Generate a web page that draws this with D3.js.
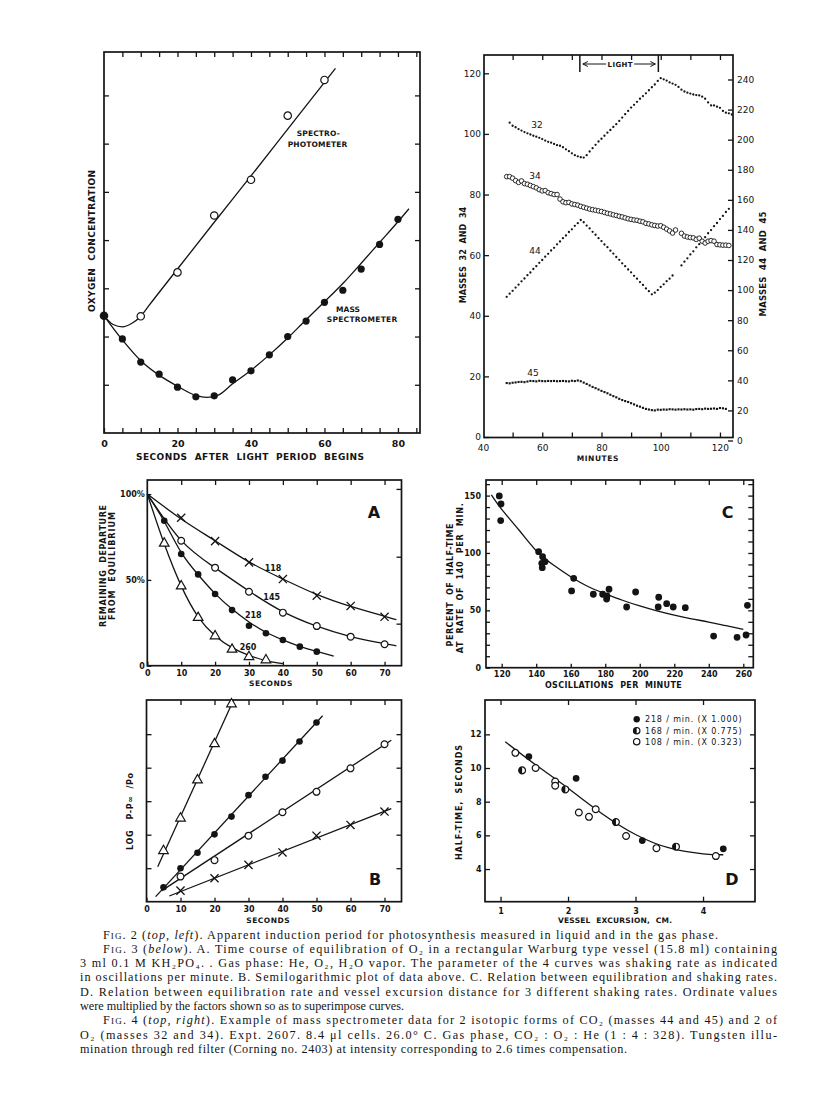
<!DOCTYPE html>
<html><head><meta charset="utf-8">
<script src="https://cdn.jsdelivr.net/npm/d3@7"></script>
<style>
body{margin:0;background:#fff;}
svg{display:block;background:#fff;}
</style></head><body>
<svg id="c" width="816" height="1116"></svg>
<script>
// ---------------- FIG. 2 data ----------------
const fig2Seconds = [0,5,10,15,20,25,30,35,40,45,50,55,60,65,70,75,80];
const fig2MassSpec = [2.43,1.95,1.47,1.22,0.95,0.75,0.77,1.10,1.29,1.62,2.00,2.32,2.71,2.96,3.40,3.91,4.43];
const fig2SpectroSeconds = [10,20,30,40,50,60];
const fig2Spectro = [2.42,3.33,4.51,5.25,6.58,7.32];
const fig2SpectroFitX = [0,2.5,5,7.5,10,12,20,30,40,50,60,63];
const fig2SpectroFitY = [2.43,2.25,2.2,2.27,2.42,2.62,3.4,4.37,5.33,6.3,7.27,7.56];
const fig2MassFitX = [0,5,10,15,20,25,28,31,35,40,45,50,55,60,65,70,75,80,83];
const fig2MassFitY = [2.43,1.93,1.5,1.2,0.97,0.78,0.74,0.78,1.02,1.3,1.62,1.97,2.35,2.72,3.1,3.52,3.95,4.38,4.65];
const fig2XLabels = [0,20,40,60,80];

// ---------------- FIG. 4 data (one reading per minute, 48..124) ----------------
const fig4Minutes = d3.range(48, 125);
const mass32 = [null,103.7,102.7,102.2,101.6,101.1,100.6,100.2,99.8,99.4,99.1,
  98.7,98.3,97.8,97.4,97.1,96.7,96.3,96.1,95.6,94.9,
  94.3,93.6,93.0,92.6,92.3,92.2,93.0,94.2,95.3,96.4,
  97.5,98.4,99.4,100.4,101.3,102.3,103.2,104.3,105.4,106.5,
  107.6,108.7,109.6,110.6,111.6,112.5,113.4,114.4,115.4,116.3,
  117.5,118.4,118.0,117.6,117.0,116.6,116.2,115.5,114.6,114.0,
  113.6,113.3,113.0,112.8,112.7,112.3,111.6,110.4,109.4,109.4,
  109.0,108.6,107.6,107.0,106.8,106.4];
const mass34 = [85.9,85.9,85.4,84.6,84.0,84.5,83.6,83.4,83.0,82.6,
  82.2,81.6,81.2,81.3,80.6,80.3,80.0,80.0,78.5,77.6,
  77.3,77.4,76.9,76.7,76.5,76.1,75.8,75.5,75.2,75.0,
  74.8,74.6,74.4,74.1,73.8,73.6,73.3,73.1,72.8,72.6,
  72.3,72.0,71.8,71.6,71.5,71.2,71.0,70.5,70.3,70.0,
  69.8,69.6,69.7,69.2,68.6,68.0,67.3,68.3,null,67.2,
  66.3,66.0,65.8,65.7,65.2,65.6,64.6,64.0,64.6,64.8,
  64.6,63.5,63.4,63.3,63.3,63.2,null];
const mass44 = [95.5,97.6,99.5,101.7,103.6,105.8,107.7,109.9,111.7,114.0,
  115.9,118.1,120.0,122.2,124.1,126.3,128.1,130.4,132.3,134.5,
  136.3,138.6,140.4,142.7,144.5,146.6,145.1,142.9,141.0,138.7,
  136.8,134.5,132.6,130.3,128.5,126.2,124.3,122.0,120.1,117.8,
  115.9,113.7,111.8,109.5,107.6,105.3,103.4,101.1,99.3,97.2,
  98.3,100.0,102.1,103.8,105.9,107.6,109.7,null,null,116.4,
  118.9,121.1,123.7,125.8,128.4,130.5,133.1,135.2,137.8,139.9,
  142.5,144.6,147.2,149.3,151.9,154.0,null];
const mass45 = [38.2,38.0,38.4,38.6,38.9,39.0,38.8,39.2,39.6,39.5,
  39.3,39.7,39.5,39.4,39.6,39.5,39.6,39.4,39.5,39.6,
  39.4,39.3,39.7,39.5,39.9,39.4,38.5,37.6,36.6,35.6,
  34.8,33.9,33.0,32.2,31.4,30.4,29.5,28.7,27.7,26.9,
  26.2,25.6,24.8,24.0,23.1,22.5,21.7,21.0,20.6,20.2,
  20.0,20.5,20.4,20.6,20.5,20.8,20.7,20.5,20.7,20.6,
  20.8,20.6,20.7,20.5,20.9,21.0,20.8,21.2,21.0,21.1,
  21.3,21.0,21.6,21.4,21.0,null,null];
const lightPeriod = [72.7, 99.2];
const fig4XLabels = [40,60,80,100,120];
const fig4LeftLabels = [0,20,40,60,80,100,120];
const fig4RightLabels = [0,20,40,60,80,100,120,140,160,180,200,220,240];

// ---------------- FIG. 3A data ----------------
const aSec = [10,20,30,40,50,60,70];
const a118 = [86.2,72.6,60.2,50.5,40.8,34.8,28.5];
const a145 = [72.8,57.1,43.1,30.9,23.1,16.9,12.5];
const aSec218 = [5,10,15,20,25,30,35,40,45,50];
const a218 = [84.5,65.1,53.2,41.8,32.4,23.3,18.9,15.0,11.1,8.2];
const aSec260 = [5,10,15,20,25,30,35];
const a260 = [71.3,46.4,28.0,17.3,9.5,5.2,3.3];
const aFit118X = [0,10,20,30,40,50,60,70,73.5];
const aFit118Y = [100,85.5,72.8,60.5,50.5,41.5,34.5,28.8,26.8];
const aFit145X = [0,10,20,30,40,50,60,70,73.5];
const aFit145Y = [100,73,57,43.5,31.5,23,17,12.8,11.6];
const aFit218X = [0,5,10,15,20,25,30,35,40,45,50,55];
const aFit218Y = [100,84,66,53,42,33,25.5,19.5,15,11.2,8.3,5.6];
const aFit260X = [0,5,10,15,20,25,30,35,40];
const aFit260Y = [100,71,46.5,28.5,17.5,10.5,6,3,1.2];
const aXLabels = [0,10,20,30,40,50,60,70];

// ---------------- FIG. 3B data ----------------
const bSecTri = [5,10,15,20,25];
const bTri = [1.52,2.49,3.63,4.71,5.90];
const bSecFilled = [5,10,15,20,25,30,35,40,45,50];
const bFilled = [0.43,1.0,1.46,2.01,2.54,3.18,3.73,4.21,4.78,5.35];
const bSecOpen = [10,20,30,40,50,60,70];
const bOpen = [0.75,1.24,1.97,2.67,3.28,3.98,4.70];
const bX = [0.33,0.70,1.10,1.47,1.97,2.29,2.69];
const bLineTriX = [3.3,25.6], bLineTriY = [1.04,6.02];
const bLineFilledX = [2.7,51.8], bLineFilledY = [0.15,5.55];
const bLineOpenX = [4.5,72], bLineOpenY = [0.33,4.82];
const bLineXX = [6.7,72], bLineXY = [0.17,2.78];

// ---------------- FIG. 3C data ----------------
const cOsc = [118.6,119.6,119.4,141.4,143.7,143.2,145.1,143.5,161.7,160.5,173.1,178.5,180.8,182.2,181,192.4,197.6,211,210.7,215.6,219.4,226.4,242.8,256.4,261.6,262.4];
const cPct = [149.7,142.7,128.2,101.1,96.8,91.0,92.4,87.2,77.9,66.9,64.0,64.0,59.9,68.4,62.5,52.9,66.0,61.4,52.9,55.8,52.9,52.3,27.6,26.5,28.5,54.4];
const cFitX = [114,120,130,140,150,160,170,180,190,200,210,220,230,240,250,260];
const cFitY = [150.6,138,120,102,89.5,79.3,70.8,64.5,58.8,53.8,49.5,45.8,42.6,39.8,36.6,33.5];
const cXLabels = [120,140,160,180,200,220,240,260];
const cYLabels = [0,50,100,150];

// ---------------- FIG. 3D data ----------------
const d218X = [1.42,2.12,3.10,4.30], d218Y = [10.68,9.39,5.69,5.20];
const d168X = [1.32,1.96,2.71,3.60], d168Y = [9.86,8.73,6.79,5.33];
const d108X = [1.22,1.52,1.81,1.81,2.16,2.31,2.41,2.86,3.31,4.19];
const d108Y = [10.9,10.0,9.2,8.95,7.36,7.1,7.55,5.96,5.24,4.77];
const dFitX = [1.07,1.5,2,2.5,3,3.5,4,4.3];
const dFitY = [11.56,10.25,8.8,7.3,6.05,5.25,4.9,4.85];
const dXLabels = [1,2,3,4];
const dYLabels = [4,6,8,10,12];
const dLegend = ['218 / min. (X 1.000)','168 / min. (X 0.775)','108 / min. (X 0.323)'];

// ---------------- drawing ----------------
const INK = '#141414';
const SANS = 'DejaVu Sans, sans-serif';
const svg = d3.select('#c');
const zip = (a,b) => a.map((v,i)=>[v,b[i]]);

function lab(g, cx, cy, s, o={}) {
  const t = g.append('text').attr('x',cx).attr('y',cy).attr('dy','0.36em')
    .attr('text-anchor', o.anchor||'middle')
    .attr('font-family', SANS).attr('font-weight', o.weight||'bold')
    .attr('font-size', o.size||8).attr('fill',INK)
    .style('white-space','pre').text(s);
  if (o.len) {
    const nat = t.node().getComputedTextLength();
    t.attr('textLength',o.len).attr('lengthAdjust', nat > o.len ? 'spacingAndGlyphs' : 'spacing');
  }
  if (o.rot) t.attr('transform',`rotate(-90,${cx},${cy})`);
  return t;
}
function frame(g, x0, x1, y0, y1) {
  g.append('rect').attr('x',x0).attr('y',y0).attr('width',x1-x0).attr('height',y1-y0)
    .attr('fill','none').attr('stroke',INK).attr('stroke-width',1.7);
}
function axis(g, gen, tx, ty, o={}) {
  const a = g.append('g').attr('transform',`translate(${tx},${ty})`).call(gen);
  a.select('.domain').remove();
  a.selectAll('line').attr('stroke',INK).attr('stroke-width',1.3);
  a.selectAll('text').attr('fill',INK).attr('font-family',SANS)
    .attr('font-weight',o.weight||'bold').attr('font-size',o.size||8);
  return a;
}
function curve(g, x, y, pts, o={}) {
  g.append('path').attr('d', d3.line().x(d=>x(d[0])).y(d=>y(d[1])).curve(o.curve||d3.curveMonotoneX)(pts))
    .attr('fill','none').attr('stroke',INK).attr('stroke-width',o.w||1.3);
}
function dots(g, x, y, pts, kind, r) {
  const sel = g.append('g').selectAll('path').data(pts.filter(d=>d[1]!=null)).join('path')
    .attr('transform', d=>`translate(${x(d[0])},${y(d[1])})`);
  if (kind==='filled') sel.attr('d', d3.symbol(d3.symbolCircle, Math.PI*r*r)()).attr('fill',INK);
  if (kind==='open') sel.attr('d', d3.symbol(d3.symbolCircle, Math.PI*r*r)()).attr('fill','#fff').attr('stroke',INK).attr('stroke-width',1.2);
  if (kind==='tri') sel.attr('d', d3.symbol(d3.symbolTriangle, r)()).attr('fill','#fff').attr('stroke',INK).attr('stroke-width',1.2);
  if (kind==='x') sel.attr('d', d3.symbol(d3.symbolTimes, r)()).attr('fill','none').attr('stroke',INK).attr('stroke-width',1.3);
  if (kind==='sq') sel.attr('d', d3.symbol(d3.symbolSquare, r)()).attr('fill',INK);
  if (kind==='half') {
    sel.attr('d', d3.symbol(d3.symbolCircle, Math.PI*r*r)()).attr('fill','#fff').attr('stroke',INK).attr('stroke-width',1.2);
    g.append('g').selectAll('path').data(pts).join('path')
      .attr('transform', d=>`translate(${x(d[0])},${y(d[1])})`)
      .attr('d', d3.arc()({innerRadius:0, outerRadius:r, startAngle:Math.PI, endAngle:2*Math.PI}))
      .attr('fill',INK);
  }
  return sel;
}

// ====== FIG. 2 ======
{
  const g = svg.append('g');
  const x = d3.scaleLinear([0,86],[104,420]);
  const y = d3.scaleLinear([0,7.9],[433,52]);
  frame(g, 104, 420, 52, 433);
  const sec5 = d3.range(5,86,5);
  axis(g, d3.axisBottom(x).tickValues(d3.range(0,86,5)).tickSize(-5).tickPadding(7)
      .tickFormat(d=>fig2XLabels.includes(d)?d:''), 0, 433, {size:9.5});
  axis(g, d3.axisTop(x).tickValues(sec5).tickSize(-5).tickFormat(''), 0, 52);
  axis(g, d3.axisLeft(y).tickValues([1,2,3,4,5,6,7]).tickSize(-5).tickFormat(''), 104, 0);
  axis(g, d3.axisRight(y).tickValues([1,2,3,4,5,6,7]).tickSize(-5).tickFormat(''), 420, 0);
  curve(g, x, y, zip(fig2SpectroFitX, fig2SpectroFitY));
  curve(g, x, y, zip(fig2MassFitX, fig2MassFitY));
  dots(g, x, y, zip(fig2SpectroSeconds, fig2Spectro), 'open', 3.7);
  dots(g, x, y, zip(fig2Seconds.slice(1), fig2MassSpec.slice(1)), 'filled', 3.6);
  dots(g, x, y, [[fig2Seconds[0], fig2MassSpec[0]]], 'filled', 4.3);
  lab(g, 250, 456.7, 'SECONDS  AFTER  LIGHT  PERIOD  BEGINS', {size:9, len:228});
  lab(g, 92, 241, 'OXYGEN  CONCENTRATION', {size:9, len:142, rot:true});
  lab(g, 318.3, 133, 'SPECTRO-', {size:7.5, len:43});
  lab(g, 317.5, 144, 'PHOTOMETER', {size:7.5, len:59.6});
  lab(g, 348, 309.3, 'MASS', {size:7.5, len:24});
  lab(g, 362, 319.3, 'SPECTROMETER', {size:7.5, len:70.6});
}

// ====== FIG. 4 ======
{
  const g = svg.append('g');
  const x = d3.scaleLinear([40,124.4],[483,733]);
  const yL = d3.scaleLinear([0,120],[437,73.3]);
  const yR = d3.scaleLinear([0,240],[440.5,79.5]);
  frame(g, 484, 733, 55, 437.5);
  axis(g, d3.axisBottom(x).tickValues(d3.range(50,121,10)).tickSize(-5).tickFormat(''), 0, 437.5);
  axis(g, d3.axisBottom(x).tickValues(fig4XLabels).tickSize(0).tickPadding(7.1), 0, 437.5, {weight:'normal', size:9});
  axis(g, d3.axisTop(x).tickValues(d3.range(50,121,10)).tickSize(-5).tickFormat(''), 0, 55);
  axis(g, d3.axisLeft(yL).tickValues(fig4LeftLabels).tickSize(-5).tickPadding(3), 484, 0, {weight:'normal', size:9});
  axis(g, d3.axisRight(yR).tickValues(fig4RightLabels).tickSize(-5).tickPadding(4), 733, 0, {weight:'normal', size:9});
  // light period markers
  const lx0 = x(lightPeriod[0]), lx1 = x(lightPeriod[1]);
  [lx0,lx1].forEach(v => g.append('line').attr('x1',v).attr('x2',v).attr('y1',55).attr('y2',72)
    .attr('stroke',INK).attr('stroke-width',1.5));
  lab(g, (lx0+lx1)/2 + 1, 64, 'LIGHT', {size:7, len:25});
  const ay = 64;
  g.append('path').attr('d',`M${lx0+3},${ay}H${(lx0+lx1)/2-13} M${lx0+3},${ay}l5,-2.5 M${lx0+3},${ay}l5,2.5`)
    .attr('stroke',INK).attr('stroke-width',1).attr('fill','none');
  g.append('path').attr('d',`M${(lx0+lx1)/2+15},${ay}H${lx1-3} M${lx1-3},${ay}l-5,-2.5 M${lx1-3},${ay}l-5,2.5`)
    .attr('stroke',INK).attr('stroke-width',1).attr('fill','none');
  dots(g, x, yL, zip(fig4Minutes, mass32), 'filled', 1.15);
  dots(g, x, yR, zip(fig4Minutes, mass44), 'filled', 1.15);
  dots(g, x, yR, zip(fig4Minutes, mass45), 'sq', 4.5);
  dots(g, x, yL, zip(fig4Minutes, mass34), 'open', 2.3).attr('stroke-width',0.9);
  lab(g, 537, 125, '32', {weight:'normal', size:9});
  lab(g, 535, 176, '34', {weight:'normal', size:9});
  lab(g, 535, 250.7, '44', {weight:'normal', size:9});
  lab(g, 533, 372.7, '45', {weight:'normal', size:9});
  lab(g, 597.5, 458.3, 'MINUTES', {size:7.5, len:41.6});
  lab(g, 462.7, 255, 'MASSES  32  AND  34', {size:8.5, len:96.6, rot:true});
  lab(g, 762.7, 264, 'MASSES  44  AND  45', {size:8.5, len:105, rot:true});
}

// ====== FIG. 3A ======
{
  const g = svg.append('g');
  const x = d3.scaleLinear([0,75],[147.3,401.5]);
  const y = d3.scaleLinear([0,108.2],[665.7,480]);
  frame(g, 147.3, 401.5, 480, 665.7);
  axis(g, d3.axisBottom(x).tickValues(aXLabels).tickSize(-4).tickPadding(4.2), 0, 665.7);
  axis(g, d3.axisTop(x).tickValues(aXLabels.slice(1)).tickSize(-5).tickFormat(''), 0, 480);
  axis(g, d3.axisLeft(y).tickValues([0,50,100]).tickSize(-4).tickPadding(2.5)
      .tickFormat(d=>d===0?'0':d+'%'), 147.3, 0);
  axis(g, d3.axisRight(y).tickValues([103,63.5,24.5]).tickSize(-5).tickFormat(''), 401.5, 0);
  curve(g, x, y, zip(aFit118X, aFit118Y), {curve:d3.curveNatural});
  curve(g, x, y, zip(aFit145X, aFit145Y), {curve:d3.curveNatural});
  curve(g, x, y, zip(aFit218X, aFit218Y), {curve:d3.curveNatural});
  curve(g, x, y, zip(aFit260X, aFit260Y), {curve:d3.curveNatural});
  dots(g, x, y, zip(aSec, a118), 'x', 45);
  dots(g, x, y, zip(aSec, a145), 'open', 3.4);
  dots(g, x, y, zip(aSec218, a218), 'filled', 3.3);
  dots(g, x, y, zip(aSec260, a260), 'tri', 40);
  lab(g, 273, 568.3, '118', {size:8});
  lab(g, 271.7, 597.3, '145', {size:8});
  lab(g, 253.3, 615, '218', {size:8});
  lab(g, 248, 646.7, '260', {size:8});
  lab(g, 374, 512.5, 'A', {size:16});
  lab(g, 270.7, 683.3, 'SECONDS', {size:7.5, len:43.3});
  lab(g, 103.3, 566, 'REMAINING  DEPARTURE', {size:8, len:122, rot:true});
  lab(g, 111.9, 566, 'FROM  EQUILIBRIUM', {size:8, len:108, rot:true});
}

// ====== FIG. 3B ======
{
  const g = svg.append('g');
  const x = d3.scaleLinear([0,75],[146.5,401.5]);
  const y = d3.scaleLinear([0,6.02],[901.7,700]);
  frame(g, 146.5, 401.5, 700, 901.7);
  axis(g, d3.axisBottom(x).tickValues(aXLabels).tickSize(-4).tickPadding(4.8), 0, 901.7);
  axis(g, d3.axisTop(x).tickValues(aXLabels.slice(1)).tickSize(-5).tickFormat(''), 0, 700);
  axis(g, d3.axisLeft(y).tickValues([1,2,3,4,5]).tickSize(-5).tickFormat(''), 146.5, 0);
  axis(g, d3.axisRight(y).tickValues([1,2,3,4,5]).tickSize(-5).tickFormat(''), 401.5, 0);
  curve(g, x, y, zip(bLineTriX, bLineTriY), {curve:d3.curveLinear});
  curve(g, x, y, zip(bLineFilledX, bLineFilledY), {curve:d3.curveLinear});
  curve(g, x, y, zip(bLineOpenX, bLineOpenY), {curve:d3.curveLinear});
  curve(g, x, y, zip(bLineXX, bLineXY), {curve:d3.curveLinear});
  dots(g, x, y, zip(bSecTri, bTri), 'tri', 40);
  dots(g, x, y, zip(bSecFilled, bFilled), 'filled', 3.3);
  dots(g, x, y, zip(bSecOpen, bOpen), 'open', 3.4);
  dots(g, x, y, zip(bSecOpen, bX), 'x', 45);
  lab(g, 375, 879, 'B', {size:16});
  lab(g, 268, 920.5, 'SECONDS', {size:7.5, len:43.3});
  lab(g, 130, 811.5, 'LOG   P-P∞  /Po', {size:8, len:77, rot:true});
}

// ====== FIG. 3C ======
{
  const g = svg.append('g');
  const x = d3.scaleLinear([110.9,265.8],[486,753.3]);
  const y = d3.scaleLinear([0,163.6],[667.7,480]);
  frame(g, 486, 753.3, 480, 667.7);
  axis(g, d3.axisBottom(x).tickValues(cXLabels).tickSize(-4).tickPadding(3.8), 0, 667.7);
  axis(g, d3.axisTop(x).tickValues(cXLabels).tickSize(-5).tickFormat(''), 0, 480);
  axis(g, d3.axisLeft(y).tickValues(d3.range(0,161,10)).tickSize(-4).tickPadding(5)
      .tickFormat(d=>cYLabels.includes(d)?d:''), 486, 0);
  axis(g, d3.axisRight(y).tickValues(d3.range(10,161,10)).tickSize(-5).tickFormat(''), 753.3, 0);
  curve(g, x, y, zip(cFitX, cFitY), {curve:d3.curveNatural});
  dots(g, x, y, zip(cOsc, cPct), 'filled', 3.4);
  lab(g, 727.5, 512.5, 'C', {size:16});
  lab(g, 613.3, 685, 'OSCILLATIONS  PER  MINUTE', {size:8, len:136.7});
  lab(g, 450, 585, 'PERCENT  OF  HALF-TIME', {size:8, len:123, rot:true});
  lab(g, 460.5, 578.3, 'AT  RATE  OF  140  PER  MIN.', {size:8, len:150, rot:true});
}

// ====== FIG. 3D ======
{
  const g = svg.append('g');
  const x = d3.scaleLinear([0.77,4.77],[485,755]);
  const y = d3.scaleLinear([2.06,14.04],[901.7,700]);
  frame(g, 485, 755, 700, 901.7);
  axis(g, d3.axisBottom(x).tickValues(dXLabels).tickSize(-5).tickPadding(6.2).tickFormat(d3.format('d')), 0, 901.7);
  axis(g, d3.axisTop(x).tickValues(dXLabels).tickSize(-5).tickFormat(''), 0, 700);
  axis(g, d3.axisLeft(y).tickValues(dYLabels).tickSize(-5).tickPadding(3.5).tickFormat(d3.format('d')), 485, 0);
  axis(g, d3.axisRight(y).tickValues(dYLabels).tickSize(-5).tickFormat(''), 755, 0);
  curve(g, x, y, zip(dFitX, dFitY), {curve:d3.curveNatural});
  dots(g, x, y, zip(d108X, d108Y), 'open', 3.4);
  dots(g, x, y, zip(d168X, d168Y), 'half', 3.4);
  dots(g, x, y, zip(d218X, d218Y), 'filled', 3.4);
  // legend
  const lg = g.append('g');
  const ly = [719.3, 730.7, 741.7];
  const kinds = ['filled','half','open'];
  const idt = d3.scaleIdentity();
  kinds.forEach((k,i)=>{
    dots(lg, idt, idt, [[636.7, ly[i]]], k, 3.2);
    lab(lg, 645, ly[i], dLegend[i], {anchor:'start', weight:'normal', size:8, len:96.5});
  });
  lab(g, 732, 879.3, 'D', {size:16});
  lab(g, 615, 920.5, 'VESSEL  EXCURSION,  CM.', {size:7.5, len:114});
  lab(g, 459.3, 802.5, 'HALF-TIME,  SECONDS', {size:8, len:115, rot:true});
}

// ====== CAPTION ======
const captionLines = [
  {x:103, len:615, segs:[['sc','Fig.'],['',' 2 ('],['i','top, left'],['','). Apparent induction period for photosynthesis measured in liquid and in the gas phase.']]},
  {x:103, len:674, segs:[['sc','Fig.'],['',' 3 ('],['i','below'],['','). A. Time course of equilibration of O₂ in a rectangular Warburg type vessel (15.8 ml) containing']]},
  {x:80, len:697, segs:[['','3 ml 0.1 M KH₂PO₄. . Gas phase: He, O₂, H₂O vapor. The parameter of the 4 curves was shaking rate as indicated']]},
  {x:80, len:697, segs:[['','in oscillations per minute. B. Semilogarithmic plot of data above. C. Relation between equilibration and shaking rates.']]},
  {x:80, len:697, segs:[['','D. Relation between equilibration rate and vessel excursion distance for 3 different shaking rates. Ordinate values']]},
  {x:80, len:324, segs:[['','were multiplied by the factors shown so as to superimpose curves.']]},
  {x:103, len:674, segs:[['sc','Fig.'],['',' 4 ('],['i','top, right'],['','). Example of mass spectrometer data for 2 isotopic forms of CO₂ (masses 44 and 45) and 2 of']]},
  {x:80, len:697, segs:[['','O₂ (masses 32 and 34). Expt. 2607. 8.4 μl cells. 26.0° C. Gas phase, CO₂ : O₂ : He (1 : 4 : 328). Tungsten illu-']]},
  {x:80, len:547, segs:[['','mination through red filter (Corning no. 2403) at intensity corresponding to 2.6 times compensation.']]}
];
{
  const g = svg.append('g');
  captionLines.forEach((ln,i)=>{
    const t = g.append('text').attr('x',ln.x).attr('y',938.5 + i*14.3)
      .attr('font-family','Liberation Serif, Times New Roman, serif').attr('font-size',12.2)
      .attr('fill',INK);
    ln.segs.forEach(([k,s])=>{
      const ts = t.append('tspan').text(s);
      if (k==='i') ts.attr('font-style','italic');
      if (k==='sc') ts.style('font-variant','small-caps');
    });
    const nat = t.node().getComputedTextLength();
    t.attr('textLength',ln.len).attr('lengthAdjust', nat>ln.len ? 'spacingAndGlyphs' : 'spacing');
  });
}
</script>
</body></html>
